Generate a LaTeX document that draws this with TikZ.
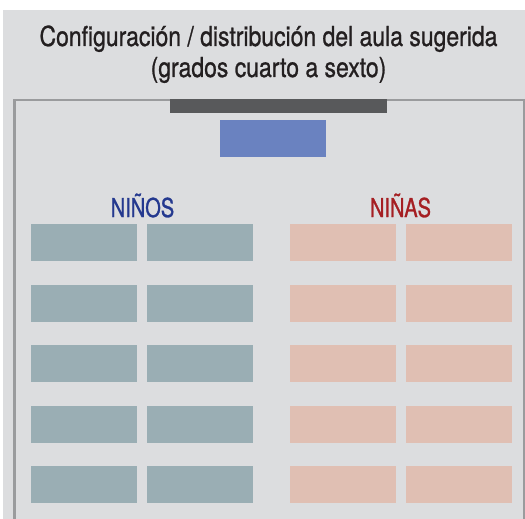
\documentclass[tikz,border=0pt]{standalone}
\usepackage{fontspec}
\setmainfont{TeX Gyre Heros}[FakeStretch=0.835, FakeBold=0.9]
\newfontfamily\lblfont{TeX Gyre Heros}[FakeStretch=0.77, FakeBold=1.1]
\definecolor{bgc}{HTML}{DCDDDF}
\definecolor{wallc}{HTML}{9A9B9D}
\definecolor{boardc}{HTML}{58595B}
\definecolor{deskc}{HTML}{6A82C0}
\definecolor{boyc}{HTML}{9AAEB4}
\definecolor{girlc}{HTML}{E0BFB3}
\definecolor{boytxt}{HTML}{24398F}
\definecolor{girltxt}{HTML}{A51E22}
\definecolor{titc}{HTML}{231F20}
\tikzset{
  boydesk/.style={fill=boyc, draw=none},
  girldesk/.style={fill=girlc, draw=none},
  ttl/.style={anchor=base, inner sep=0pt, text=titc, font=\fontsize{27.5}{27.5}\selectfont},
  lbl/.style={anchor=base, inner sep=0pt, font=\lblfont\fontsize{26}{26}\selectfont},
}
\begin{document}
\begin{tikzpicture}[x=1pt,y=-1pt]
\useasboundingbox (0,0) rectangle (525,519);
\fill[white] (0,0) rectangle (525,519);
\fill[bgc] (3,10) rectangle (525,519);
% walls
\draw[wallc, line width=2.6pt] (14.5,519) -- (14.5,100) -- (524,100) -- (524,519);
% board
\fill[boardc] (170,99) rectangle (387,113);
% teacher desk
\node[fill=deskc, draw=none, minimum width=106pt, minimum height=37pt, inner sep=0pt, anchor=north west] (teacher) at (220,120) {};
% title
\node[ttl] (t1) at (268.5,46) {Configuración / distribución del aula sugerida};
\node[ttl] (t2) at (268.5,77) {(grados cuarto a sexto)};
% labels
\node[lbl, text=boytxt] (ninos) at (142.5,217) {NIÑOS};
\node[lbl, text=girltxt] (ninas) at (400.5,217) {NIÑAS};
% desks
\foreach \r/\y in {1/224,2/284.5,3/345,4/405.5,5/466}{
  \fill[boydesk] (31,\y) rectangle ++(106,37);
  \fill[boydesk] (147,\y) rectangle ++(106,37);
  \fill[girldesk] (289.5,\y) rectangle ++(106,37);
  \fill[girldesk] (405.5,\y) rectangle ++(106,37);
}
\end{tikzpicture}
\end{document}
